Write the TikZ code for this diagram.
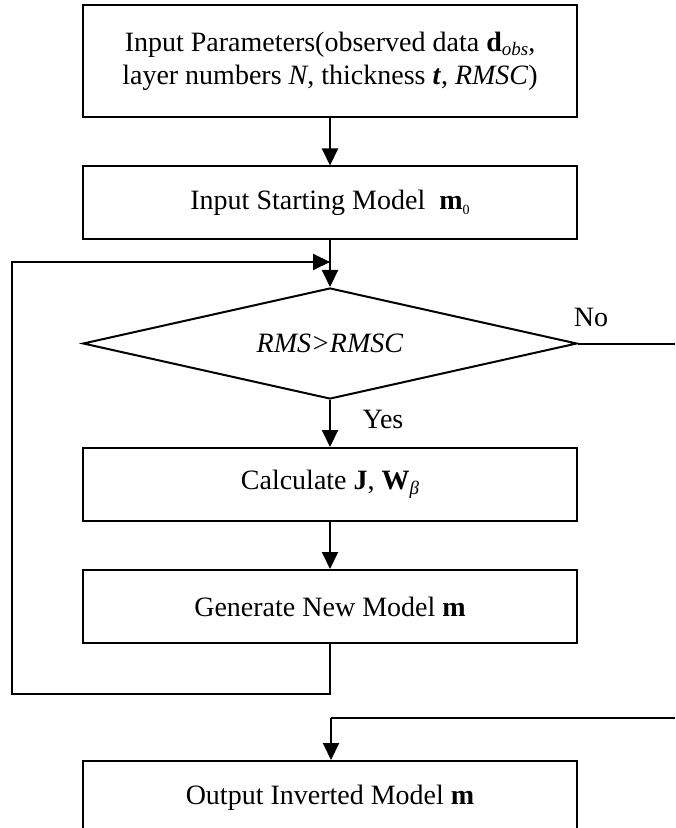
\documentclass[tikz,border=0pt]{standalone}
\usepackage{fontspec}
\setmainfont{Liberation Serif}
\usetikzlibrary{arrows.meta,shapes.geometric}
\newcommand\lowsub[1]{\raisebox{-0.35ex}{\fontsize{9.5}{9.5}\selectfont #1}}
\begin{document}
\begin{tikzpicture}[x=0.5pt,y=-0.5pt,
  txt/.style={font=\fontsize{14}{16.5}\selectfont},
  box/.style={txt, draw, line width=1pt, minimum width=247pt, minimum height=36.5pt, inner sep=0pt, align=center},
  dec/.style={txt, draw, diamond, aspect=4.45, line width=1pt, minimum width=247pt, minimum height=55.5pt, inner sep=0pt},
  conn/.style={line width=1pt},
  arr/.style={conn, -{Triangle[length=8.5pt,width=8pt]}}]
\useasboundingbox (0,0) rectangle (675,828);
\clip (0,0) rectangle (675,828);
\node[box, minimum height=56pt] (inp) at (330,61) {Input Parameters(observed data \textbf{d}\lowsub{\textit{obs}},\\layer numbers \textit{N}, thickness \textbf{\textit{t}}, \textit{RMSC})};
\node[box] (start) at (330,203) {Input Starting Model~~\textbf{m}\lowsub{\fontsize{7}{7}\selectfont 0}};
\node[dec] (dia) at (330,343.5) {\textit{RMS>RMSC}};
\node[box] (calc) at (330,484.5) {Calculate \textbf{J}, \textbf{W}\lowsub{\textit{β}}};
\node[box] (gen) at (330,606.5) {Generate New Model \textbf{m}};
\node[box] (out) at (330,797.5) {Output Inverted Model \textbf{m}};
\node[txt] (no) at (591,317) {No};
\node[txt] (yes) at (383,419) {Yes};
\coordinate (join) at (330,262);
\coordinate (lb) at (330,694);
\coordinate (lbl) at (12,694);
\coordinate (ltl) at (12,262);
\coordinate (noend) at (675,343.5);
\coordinate (nostart) at (675,718);
\coordinate (nocorner) at (331,718);
\draw[arr] (inp) -- (start);
\draw[arr] (start) -- (dia.north);
\draw[arr] (dia.south) -- (calc);
\draw[arr] (calc) -- (gen);
\draw[conn] (gen.south) -- (lb) -- (lbl) -- (ltl) -- (join);
\draw[arr] (ltl) -- (join);
\draw[conn] (dia.east) -- (noend);
\draw[conn] (nostart) -- (nocorner);
\draw[arr] (nocorner) -- (nocorner |- out.north);
\end{tikzpicture}
\end{document}
